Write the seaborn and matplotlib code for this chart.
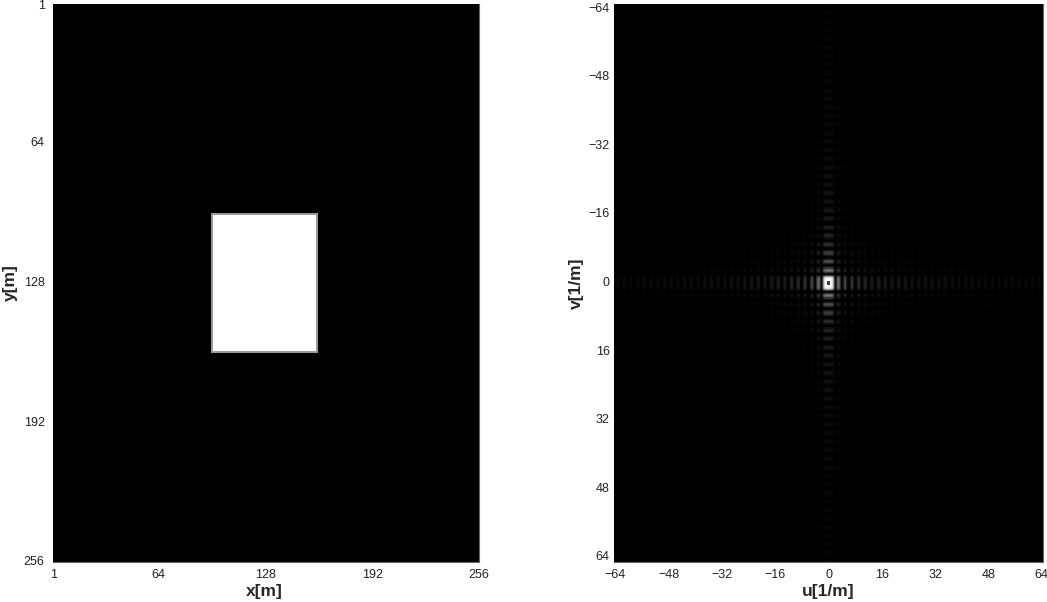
import numpy as np
import seaborn as sns
from matplotlib import pyplot as plt

# left panel, rectangle bounds in samples
size = 256
rect_x = [95, 159]
rect_y = [96, 160]
rect_edge = 0.6
space_ticks = [1, 64, 128, 192, 256]

# right panel, tick values and brightness
freq_ticks = [-64, -48, -32, -16, 0, 16, 32, 48, 64]
cells_per_unit = 4
main_lobe = [1.0, 1.0, 1.0, 1.0, 0.95, 0.85, 0.6, 0.25, 0.03]
lobe_shape = [0.12, 0.45, 0.82, 1.0, 0.82, 0.45, 0.12, 0.03]
centre_value = 0.25
# side lobe peaks at 3, 5, 7 ... 1/m
u_lobes = [0.40, 0.27, 0.20, 0.16, 0.135, 0.12, 0.105, 0.095, 0.085, 0.08, 0.075,
           0.07, 0.065, 0.06, 0.058, 0.055, 0.052, 0.05, 0.048, 0.046, 0.044, 0.042,
           0.04, 0.038, 0.036, 0.035, 0.034, 0.032, 0.03, 0.03, 0.028]
v_lobes = [0.46, 0.31, 0.23, 0.18, 0.145, 0.12, 0.105, 0.09, 0.08, 0.072, 0.065,
           0.06, 0.055, 0.05, 0.048, 0.045, 0.042, 0.04, 0.038, 0.036, 0.034, 0.032,
           0.03, 0.03, 0.028, 0.026, 0.025, 0.024, 0.022, 0.02, 0.02, 0.018]


def make_profile(lobes, half_cells):
    half = list(main_lobe)
    for p in lobes:
        half += [s * p for s in lobe_shape]
    half = half[:half_cells + 1]
    return np.array(half[::-1] + half[1:])


sns.set_theme(style="white")
plt.rcParams['font.family'] = ['Liberation Sans', 'DejaVu Sans']

image = np.zeros((size, size))
image[rect_y[0]:rect_y[1], rect_x[0]:rect_x[1]] = rect_edge
image[rect_y[0] + 1:rect_y[1] - 1, rect_x[0] + 1:rect_x[1] - 1] = 1.0

u_half = 64 * cells_per_unit
v_half = 65 * cells_per_unit
u_profile = make_profile(u_lobes, u_half)
v_profile = make_profile(v_lobes, v_half)
spectrum = np.outer(v_profile, u_profile)
spectrum[v_half - 1:v_half + 2, u_half - 1:u_half + 2] = centre_value

W, H = 1047, 602
fig = plt.figure(figsize=(W / 100, H / 100), dpi=100)
ax1 = fig.add_axes([53 / W, 1 - 562 / H, 426 / W, 558 / H])
ax2 = fig.add_axes([614 / W, 1 - 562 / H, 429 / W, 558 / H])

sns.heatmap(image, ax=ax1, cmap='gray', vmin=0, vmax=1, cbar=False)
sns.heatmap(spectrum, ax=ax2, cmap='gray', vmin=0, vmax=1, cbar=False)

space_pos = [(t - 1) * size / (size - 1) for t in space_ticks]
ax1.set_xticks([p + 0.5 if p < 1 else p - 0.5 * (p == 128 * size / 255) for p in space_pos])
ax1.set_xticklabels([str(t) for t in space_ticks], rotation=0)
ax1.set_yticks([min(p + 0.7, size) for p in space_pos])
ax1.set_yticklabels([str(t) for t in space_ticks], rotation=0)
ax1.set_xlabel('x[m]', fontsize=12.5, fontweight='bold', labelpad=2)
ax1.set_ylabel('y[m]', fontsize=12.5, fontweight='bold', labelpad=4)
ax1.xaxis.set_label_coords(211 / 426, -22 / 558)

labels = [str(t).replace('-', '\u2212') for t in freq_ticks]
ax2.set_xticks([u_half + 0.5 + t * 3.98 for t in freq_ticks])
ax2.set_xticklabels(labels, rotation=0)
ax2.set_yticks([v_half + 0.5 + t * cells_per_unit for t in freq_ticks])
ax2.set_yticklabels(labels, rotation=0)
ax2.set_xlabel('u[1/m]', fontsize=12.5, fontweight='bold', labelpad=2)
ax2.set_ylabel('v[1/m]', fontsize=12.5, fontweight='bold', labelpad=3)

for ax in [ax1, ax2]:
    ax.tick_params(length=0, labelsize=9, colors='#222222')
    ax.tick_params(axis='x', pad=5)
    for side in ['bottom', 'right']:
        ax.spines[side].set_visible(True)
        ax.spines[side].set_color('#666666')
        ax.spines[side].set_linewidth(0.8)
ax1.tick_params(axis='y', pad=6)
ax2.tick_params(axis='y', pad=3)

fig.savefig('out.png', dpi=100)
